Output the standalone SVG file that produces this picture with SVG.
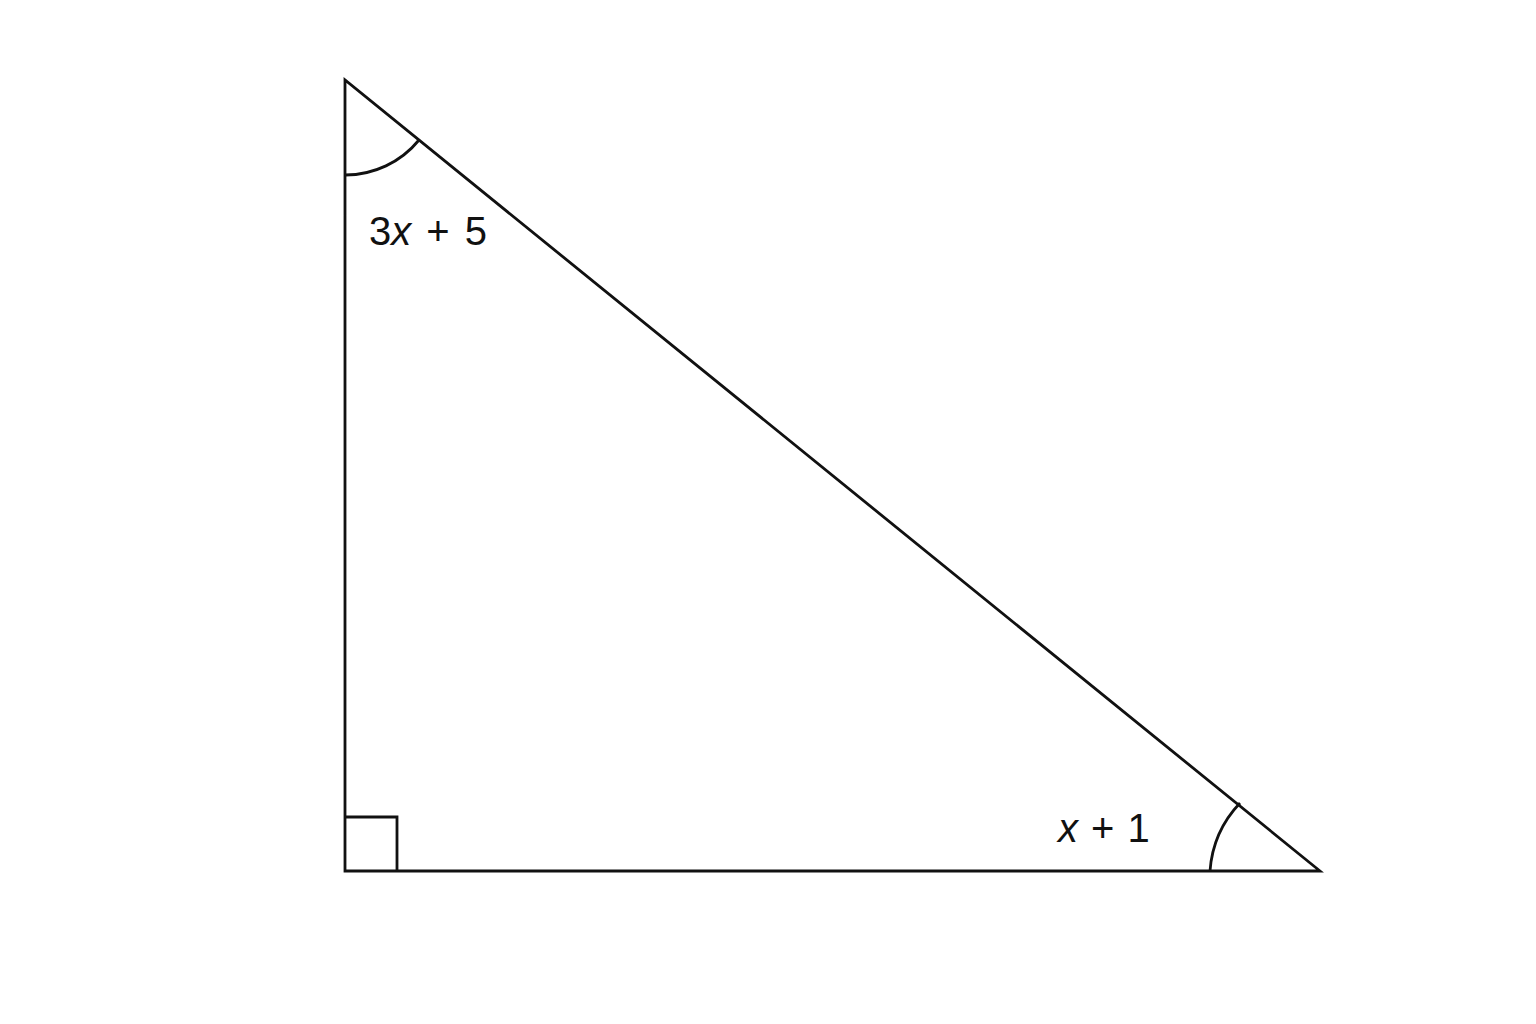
<svg xmlns="http://www.w3.org/2000/svg" width="1536" height="1024" viewBox="0 0 1536 1024">
<style>
.ln{fill:none;stroke:#111;stroke-width:2.8;stroke-linejoin:miter;stroke-linecap:butt}
.lb{font-family:"Liberation Sans",Arial,sans-serif;font-size:40px;fill:#111}
.it{font-style:italic}
</style>
<rect width="1536" height="1024" fill="#fff"/>
<g id="triangle">
<path class="ln" d="M345,80 L345,871 L1320,871 Z"/>
</g>
<g id="right-angle">
<path class="ln" d="M345,817 L397,817 L397,871"/>
</g>
<g id="angle-top">
<path class="ln" d="M345,175 A95,95 0 0 0 419,140"/>
<text class="lb" x="369" y="245" word-spacing="4">3<tspan class="it">x</tspan> + 5</text>
</g>
<g id="angle-right">
<path class="ln" d="M1210,871 A110,110 0 0 1 1240,803"/>
<text class="lb" x="1058" y="842" word-spacing="2"><tspan class="it">x</tspan> + 1</text>
</g>
</svg>
